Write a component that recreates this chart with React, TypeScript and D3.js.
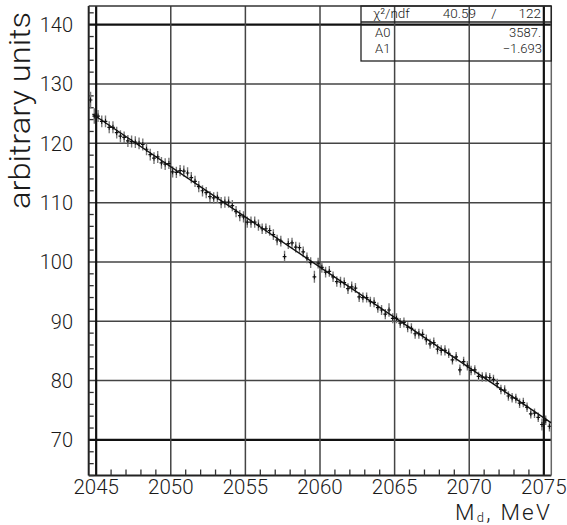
import React from 'react';
import * as d3 from 'd3';

// ---- data ----
const BIN_LOW = 2044.5;
const BIN_WIDTH = 0.25;
const counts = [
  127.3, 124.6, 124.6, 123.7, 123.7, 122.7, 122.7, 121.8, 121.2, 121.0,
  120.4, 120.3, 120.2, 120.0, 119.8, 119.0, 118.1, 117.5, 117.7, 116.7,
  116.5, 116.6, 115.2, 115.1, 115.4, 115.3, 115.0, 114.2, 113.6, 112.7,
  112.0, 111.7, 111.0, 110.8, 110.9, 110.0, 110.1, 110.1, 109.5, 108.5,
  107.8, 107.6, 106.7, 106.7, 106.7, 106.2, 105.6, 105.6, 105.3, 104.6,
  103.7, 103.5, 100.9, 103.1, 103.2, 102.5, 102.4, 101.7, 100.7, 99.9,
  97.5, 99.8, 99.1, 98.3, 98.4, 97.5, 96.7, 96.6, 96.5, 95.5,
  95.8, 95.6, 94.1, 94.0, 94.0, 93.3, 93.2, 92.3, 91.9, 91.2,
  91.9, 90.5, 90.5, 89.7, 89.8, 89.0, 88.8, 87.9, 87.9, 87.8,
  86.9, 86.2, 86.4, 85.3, 85.1, 85.1, 84.6, 83.5, 84.0, 81.8,
  83.2, 82.5, 81.7, 81.8, 80.7, 80.6, 80.6, 80.5, 80.2, 79.5,
  78.5, 78.4, 77.4, 77.1, 77.0, 76.2, 76.3, 75.5, 74.4, 74.5,
  73.8, 72.6, 73.3, 72.3,
];
const errors = [
  1.4, 1.3, 1.0, 1.0, 1.0, 1.0, 1.0, 1.0, 1.0, 1.0,
  1.0, 1.0, 1.0, 1.0, 1.0, 1.0, 1.0, 1.0, 1.0, 1.0,
  1.0, 0.95, 0.95, 0.95, 0.95, 0.95, 0.95, 0.95, 0.95, 0.95,
  0.95, 0.95, 0.95, 0.95, 0.95, 0.95, 0.95, 0.95, 0.95, 0.95,
  0.95, 0.95, 0.95, 0.95, 0.95, 0.95, 0.9, 0.9, 0.9, 0.9,
  0.9, 0.9, 1.0, 0.9, 0.9, 0.9, 0.9, 0.9, 0.9, 0.9,
  1.0, 0.9, 0.9, 0.9, 0.9, 0.9, 0.9, 0.9, 0.9, 0.9,
  0.9, 0.85, 0.85, 0.85, 0.85, 0.85, 0.85, 0.85, 0.85, 0.85,
  1.15, 0.85, 0.85, 0.85, 0.85, 0.85, 0.85, 0.85, 0.85, 0.85,
  0.85, 0.85, 0.85, 0.85, 0.85, 0.85, 0.8, 0.8, 0.8, 0.9,
  0.8, 0.8, 0.8, 0.8, 0.8, 0.8, 0.8, 0.8, 0.8, 0.8,
  0.8, 0.8, 0.8, 0.8, 0.8, 0.8, 0.8, 0.8, 0.8, 0.8,
  0.8, 1.0, 0.8, 0.9,
];
const X_DOMAIN: [number, number] = [2044.5, 2075.5];
const Y_DOMAIN: [number, number] = [64, 143.15];
const X_TICKS = [2045, 2050, 2055, 2060, 2065, 2070, 2075];
const Y_TICKS = [70, 80, 90, 100, 110, 120, 130, 140];
const FIT_A0 = 3586.7;
const FIT_A1 = -1.693;
const FIT_RANGE: [number, number] = [2044.75, 2075.5];
const CHI2 = '40.59';
const NDF = '122';
const A0_LABEL = '3587.';
const A1_LABEL = '\u22121.693';
const X_TITLE = 'M';
const X_TITLE_SUB = 'd';
const X_TITLE_REST = ', MeV';
const Y_TITLE = 'arbitrary units';

const FONT = 'Roboto, "DejaVu Sans", sans-serif';

export default function App() {
  const L = 88.7, R = 551.3, T = 6, B = 475.5;
  const x = d3.scaleLinear().domain(X_DOMAIN).range([L, R]);
  const y = d3.scaleLinear().domain(Y_DOMAIN).range([B, T]);

  const pts = counts.map((v, i) => ({ m: BIN_LOW + BIN_WIDTH * (i + 0.5), v, e: errors[i] }));

  const minorY = d3.range(64, 143, 2).filter((v) => v % 10 !== 0);
  const minorX = d3.range(2045, 2076, 1).filter((v) => v % 5 !== 0);

  const fitLine = d3
    .line<number>()
    .x((m) => x(m))
    .y((m) => y(FIT_A0 + FIT_A1 * m))(FIT_RANGE);

  const thickY = new Set([70, 140]);
  const thickX = new Set([2045, 2075]);

  const txt = { fontFamily: FONT, fontWeight: 300, fill: '#1a1a1a' } as const;

  return (
    <svg
      width={567}
      height={525}
      style={{ position: 'absolute', left: 0, top: 0, background: '#fff' }}
    >
      <rect x={0} y={0} width={567} height={525} fill="#fff" />
      <defs>
        <clipPath id="frame">
          <rect x={L} y={T} width={R - L} height={B - T} />
        </clipPath>
      </defs>

      {/* grid */}
      {Y_TICKS.map((t) => (
        <line key={'gy' + t} x1={L} x2={R} y1={y(t)} y2={y(t)}
          stroke={thickY.has(t) ? '#111' : '#444'} strokeWidth={thickY.has(t) ? 2.2 : 1.5} />
      ))}
      {X_TICKS.map((t) => (
        <line key={'gx' + t} x1={x(t)} x2={x(t)} y1={T} y2={B}
          stroke={thickX.has(t) ? '#111' : '#444'} strokeWidth={thickX.has(t) ? 2.2 : 1.5} />
      ))}

      {/* frame */}
      <line x1={L} x2={L} y1={T} y2={B} stroke="#222" strokeWidth={2} />
      <line x1={L} x2={R} y1={B} y2={B} stroke="#222" strokeWidth={2} />
      <line x1={L} x2={R} y1={T} y2={T} stroke="#333" strokeWidth={1.5} />
      <line x1={R} x2={R} y1={T} y2={B} stroke="#666" strokeWidth={1.5} />

      {/* minor ticks */}
      {minorY.map((t) => (
        <line key={'my' + t} x1={L} x2={L + 5} y1={y(t)} y2={y(t)} stroke="#333" strokeWidth={1.3} />
      ))}
      {minorX.map((t) => (
        <line key={'mx' + t} x1={x(t)} x2={x(t)} y1={B} y2={B - 6} stroke="#333" strokeWidth={1.3} />
      ))}

      {/* data points */}
      <g clipPath="url(#frame)">
        {pts.map((p, i) => {
          const cx = x(p.m);
          const cy = y(p.v);
          const hw = (x(BIN_WIDTH) - x(0)) / 2;
          return (
            <g key={'p' + i}>
              <line x1={cx} x2={cx} y1={y(p.v + p.e)} y2={y(p.v - p.e)} stroke="#777" strokeWidth={1.4} />
              <line x1={cx} x2={cx} y1={cy - 2.5} y2={cy + 2.5} stroke="#111" strokeWidth={1} />
              <line x1={cx - hw} x2={cx + hw} y1={cy} y2={cy} stroke="#111" strokeWidth={1.2} />
            </g>
          );
        })}
        <path d={fitLine || ''} fill="none" stroke="#111" strokeWidth={1.4} />
      </g>

      {/* stats box */}
      <g>
        <rect x={361} y={T} width={R - 361} height={61 - T} fill="none" stroke="#222" strokeWidth={1.3} />
        <line x1={361} x2={R} y1={22} y2={22} stroke="#222" strokeWidth={1.3} />
        <text x={373} y={17.5} fontSize={13.5} {...txt}>{'\u03C7\u00B2/ndf'}</text>
        <text x={476} y={17.5} fontSize={13.5} textAnchor="end" {...txt}>{CHI2}</text>
        <text x={494} y={17.5} fontSize={13.5} textAnchor="middle" {...txt}>/</text>
        <text x={541} y={17.5} fontSize={13.5} textAnchor="end" {...txt}>{NDF}</text>
        <text x={375} y={37} fontSize={13} {...txt}>A0</text>
        <text x={541} y={37} fontSize={13} textAnchor="end" {...txt}>{A0_LABEL}</text>
        <text x={375} y={53} fontSize={13} {...txt}>A1</text>
        <text x={542} y={53} fontSize={13} textAnchor="end" {...txt}>{A1_LABEL}</text>
      </g>

      {/* tick labels */}
      {Y_TICKS.map((t) => (
        <text key={'ly' + t} x={73} y={y(t) + 7.3} fontSize={20} textAnchor="end" {...txt}>{t}</text>
      ))}
      {X_TICKS.map((t) => (
        <text key={'lx' + t} x={x(t)} y={494} fontSize={20.5} textAnchor="middle" {...txt}>{t}</text>
      ))}

      {/* axis titles */}
      <text transform="translate(30,110.5) rotate(-90)" fontSize={29} textAnchor="middle"
        textLength={197} lengthAdjust="spacingAndGlyphs" {...txt}>{Y_TITLE}</text>
      <text x={552} y={519.5} fontSize={22.5} textAnchor="end" letterSpacing={2.2} {...txt}>
        {X_TITLE}
        <tspan fontSize={13} dy={2}>{X_TITLE_SUB}</tspan>
        <tspan dy={-2}>{X_TITLE_REST}</tspan>
      </text>
    </svg>
  );
}
